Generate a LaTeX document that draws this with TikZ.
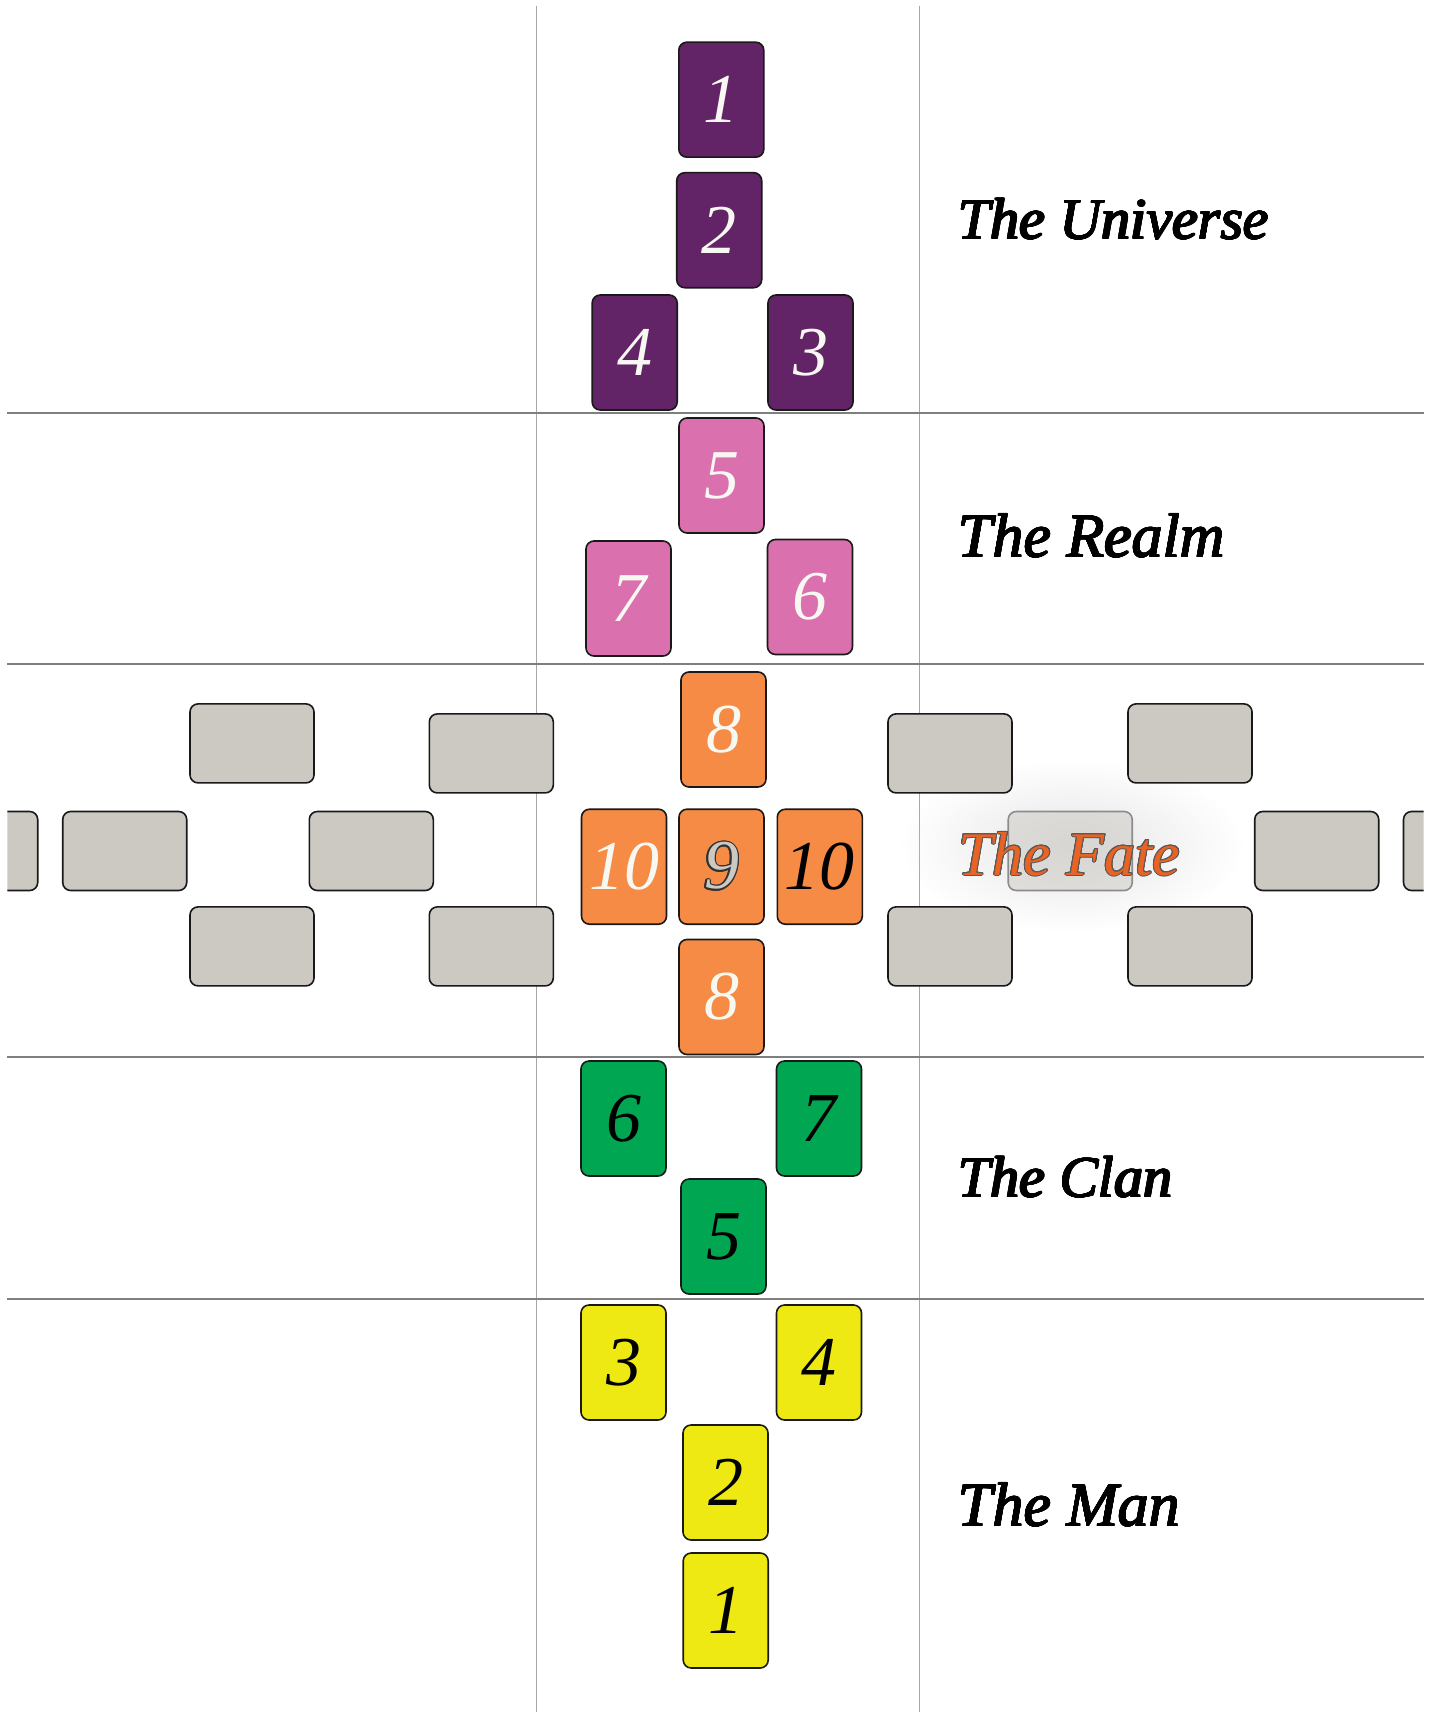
\documentclass[tikz,border=0pt]{standalone}
\usepackage{fontspec}
\usepackage{contour}
\usetikzlibrary{fadings}
\newfontfamily\serifit{Liberation Serif}
\definecolor{cPurple}{HTML}{632367}
\definecolor{cPink}{HTML}{DB70AE}
\definecolor{cOrange}{HTML}{F58B44}
\definecolor{cGreen}{HTML}{00A651}
\definecolor{cYellow}{HTML}{EEE912}
\definecolor{cGrey}{HTML}{CCC8C2}
\definecolor{cWhite}{HTML}{F8F8F2}
\definecolor{cFate}{HTML}{E96424}
\definecolor{cVline}{HTML}{A8A8A8}
\definecolor{cHline}{HTML}{7F7F7F}
\tikzfading[name=halofade, inner color=transparent!0, outer color=transparent!100]
\newcommand\numfont{\serifit\itshape\fontsize{70}{70}\selectfont}
\newcommand\labsize[1]{\serifit\itshape\fontsize{#1}{#1}\selectfont}
\newcommand\heavytext[1]{{\contourlength{0.6pt}\contour{black}{#1}}}
\contourlength{1.2pt}
\tikzset{
  pcard/.style={draw=black!90, line width=1.6pt, rounded corners=8pt,
    minimum width=85pt, minimum height=115pt, inner sep=0pt, font=\numfont},
  lcard/.style={draw=black!90, line width=1.6pt, rounded corners=8pt,
    minimum width=124pt, minimum height=79pt, inner sep=0pt, fill=cGrey},
  lbl/.style={anchor=base west, inner sep=0pt},
  vline/.style={draw=cVline, line width=1.3pt},
  hline/.style={draw=cHline, line width=2pt},
  purp/.style={pcard, fill=cPurple, text=cWhite},
  pnk/.style={pcard, fill=cPink, text=cWhite},
  orng/.style={pcard, fill=cOrange},
  grn/.style={pcard, fill=cGreen, text=black},
  yel/.style={pcard, fill=cYellow, text=black}
}
\begin{document}
\begin{tikzpicture}[x=1pt,y=-1pt]
\useasboundingbox[fill=white] (0,0) rectangle (1432,1712);
% guide lines
\coordinate (vl1) at (536.7,6);  \coordinate (vl1b) at (536.7,1712);
\coordinate (vl2) at (919.5,6);  \coordinate (vl2b) at (919.5,1712);
\draw[vline] (vl1) -- (vl1b);
\draw[vline] (vl2) -- (vl2b);
\foreach \yy [count=\i] in {412.7,663.6,1056.8,1299}{
  \coordinate (hl\i a) at (7.3,\yy);
  \coordinate (hl\i b) at (1424,\yy);
  \draw[hline] (hl\i a) -- (hl\i b);
}
% halo behind The Fate
\fill[black!10, path fading=halofade] (1072,846) ellipse (170 and 85);
% grey landscape cards
\begin{scope}
\clip (7.3,0) rectangle (1423.5,1712);
\node[lcard] (gA) at (252,743.4) {};
\node[lcard] (gB) at (491.3,753.4) {};
\node[lcard] (gC) at (371.3,851) {};
\node[lcard] (gD) at (124.7,851) {};
\node[lcard] (gE) at (-24.3,851) {};
\node[lcard] (gF) at (252,946.4) {};
\node[lcard] (gG) at (491.3,946.4) {};
\node[lcard] (hA) at (1190,743.4) {};
\node[lcard] (hB) at (950,753.4) {};
\node[lcard, fill opacity=0.5, draw=black!45] (hC) at (1070.2,851) {};
\node[lcard] (hD) at (1316.7,851) {};
\node[lcard] (hE) at (1465.5,851) {};
\node[lcard] (hF) at (1190,946.4) {};
\node[lcard] (hG) at (950,946.4) {};
\end{scope}
% The Universe (purple)
\node[purp] (u1) at (721.3,99.7) {1};
\node[purp] (u2) at (719.2,230.2) {2};
\node[purp] (u4) at (634.7,352.5) {4};
\node[purp] (u3) at (810.5,352.5) {3};
% The Realm (pink)
\node[pnk] (r5) at (721.5,475.5) {5};
\node[pnk] (r7) at (628.5,598.5) {7};
\node[pnk] (r6) at (810,597) {6};
% The Fate (orange)
\node[orng, text=cWhite] (f8a) at (723.5,729.5) {8};
\node[orng, text=cWhite] (f10l) at (624,866.7) {10};
\node[orng] (f9) at (721.5,866.7) {\contour{black!80}{\textcolor{cGrey}{9}}};
\node[orng, text=black] (f10r) at (819.8,866.7) {10};
\node[orng, text=cWhite] (f8b) at (721.5,997) {8};
% The Clan (green)
\node[grn] (c6) at (623.5,1118.5) {6};
\node[grn] (c7) at (819,1118.5) {7};
\node[grn] (c5) at (723.5,1236.5) {5};
% The Man (yellow)
\node[yel] (m3) at (623.5,1362.5) {3};
\node[yel] (m4) at (819,1362.5) {4};
\node[yel] (m2) at (725.5,1482.5) {2};
\node[yel] (m1) at (725.7,1610.5) {1};
% labels
\node[lbl, font=\labsize{58}] (lu) at (958,239) {\heavytext{The Universe}};
\node[lbl, font=\labsize{62}] (lr) at (958,557) {\heavytext{The Realm}};
\node[lbl, font=\labsize{62}] (lf) at (958,875) {{\contourlength{1pt}\contour{black!65}{\textcolor{cFate}{The Fate}}}};
\node[lbl, font=\labsize{58}] (lc) at (958,1197) {\heavytext{The Clan}};
\node[lbl, font=\labsize{62}] (lm) at (958,1526) {\heavytext{The Man}};
\end{tikzpicture}
\end{document}
